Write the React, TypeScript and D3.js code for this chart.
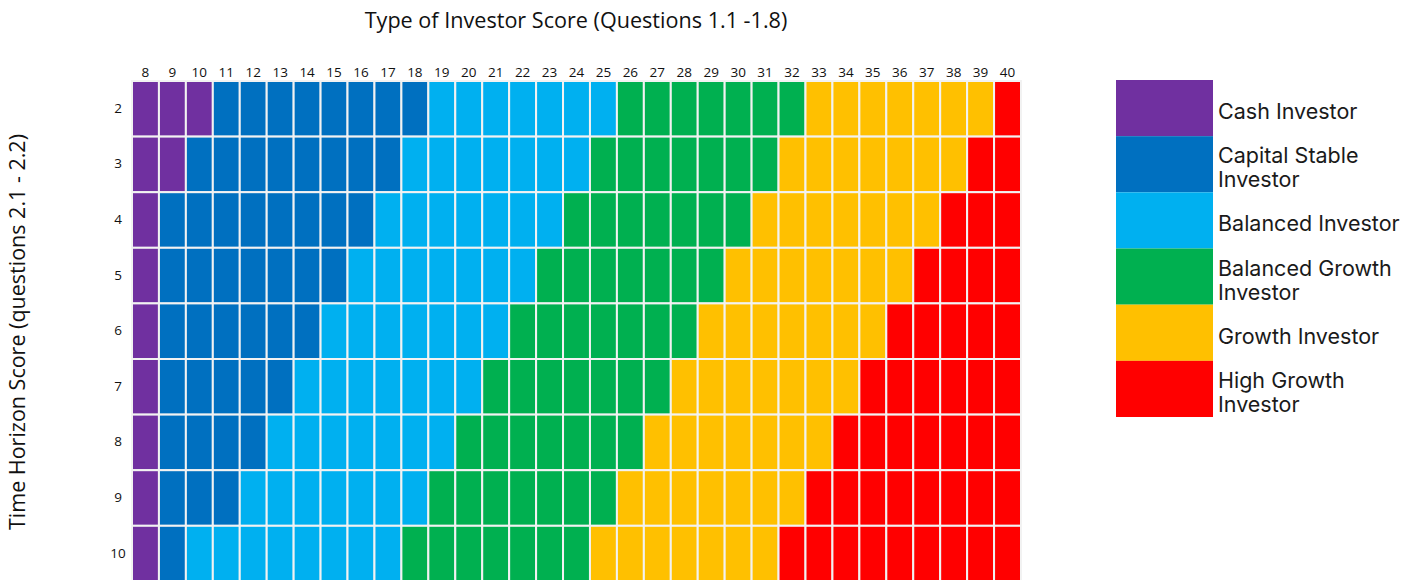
import React from "react";
import * as d3 from "d3";

const investorScores = d3.range(8, 41);
const timeScores = [2, 3, 4, 5, 6, 7, 8, 9, 10];

const categoryNames = [
  ["Cash Investor"],
  ["Capital Stable", "Investor"],
  ["Balanced Investor"],
  ["Balanced Growth", "Investor"],
  ["Growth Investor"],
  ["High Growth", "Investor"],
];
const categoryColors = ["#7030A0", "#0070C0", "#00B0F0", "#00B050", "#FFC000", "#FF0000"];

// first Type-of-Investor score at which each category starts, per time horizon row (2..10)
const capitalStableStart = [11, 10, 9, 9, 9, 9, 9, 9, 9];
const balancedStart = [19, 18, 17, 16, 15, 14, 13, 12, 10];
const balancedGrowthStart = [26, 25, 24, 23, 22, 21, 20, 19, 18];
const growthStart = [33, 32, 31, 30, 29, 28, 27, 26, 25];
const highGrowthStart = [40, 39, 38, 37, 36, 35, 34, 33, 32];

const W = 1417;
const H = 580;
const FONT = "'Open Sans', Lato, sans-serif";
const TICK_FONT = "'Open Sans', Lato, sans-serif";
const LEGEND_FONT = "Inter, 'Open Sans', sans-serif";

function categoryOf(rowIdx: number, score: number): number {
  const starts = [
    capitalStableStart[rowIdx],
    balancedStart[rowIdx],
    balancedGrowthStart[rowIdx],
    growthStart[rowIdx],
    highGrowthStart[rowIdx],
  ];
  let c = 0;
  starts.forEach((s, i) => {
    if (score >= s) c = i + 1;
  });
  return c;
}

export default function App() {
  const x = d3.scaleBand<number>().domain(investorScores).range([132, 1021]);
  const y = d3.scaleBand<number>().domain(timeScores).range([81, 81 + 9 * 55.6]);
  const legendY = d3.scaleBand<number>().domain(d3.range(6)).range([80, 417]);

  const cells: { t: number; s: number; c: number }[] = [];
  timeScores.forEach((t, ri) => {
    investorScores.forEach((s) => cells.push({ t, s, c: categoryOf(ri, s) }));
  });

  return (
    <svg
      width={W}
      height={H}
      style={{ position: "absolute", left: 0, top: 0, display: "block", background: "#fff" }}
    >
      <text x={576} y={28} textAnchor="middle" fontFamily={FONT} fontSize={21.6} fill="#111">
        Type of Investor Score (Questions 1.1 -1.8)
      </text>
      <text
        transform={`translate(25,${332}) rotate(-90)`}
        textAnchor="middle"
        fontFamily={FONT}
        fontSize={21.5}
        fill="#111"
      >
        Time Horizon Score (questions 2.1 - 2.2)
      </text>
      <g>
        {cells.map((d, i) => (
          <rect
            key={i}
            x={x(d.s)!}
            y={y(d.t)!}
            width={x.bandwidth()}
            height={y.bandwidth()}
            fill={categoryColors[d.c]}
            stroke="#F2F2F2"
            strokeWidth={2}
          />
        ))}
      </g>
      <g>
        {investorScores.map((s) => (
          <text
            key={s}
            x={x(s)! + x.bandwidth() / 2}
            y={77}
            textAnchor="middle"
            fontFamily={TICK_FONT}
            fontSize={13.5}
            fill="#111"
          >
            {s}
          </text>
        ))}
      </g>
      <g>
        {timeScores.map((t) => (
          <text
            key={t}
            x={118}
            y={y(t)! + y.bandwidth() / 2 + 4}
            textAnchor="middle"
            fontFamily={TICK_FONT}
            fontSize={13.5}
            fill="#111"
          >
            {t}
          </text>
        ))}
      </g>
      <g>
        {categoryNames.map((lines, i) => {
          const cy = legendY(i)! + legendY.bandwidth() / 2 + 4;
          return (
            <g key={i}>
              <rect
                x={1116}
                y={legendY(i)!}
                width={97}
                height={legendY.bandwidth()}
                fill={categoryColors[i]}
              />
              {lines.map((ln, j) => (
                <text
                  key={j}
                  x={1218}
                  y={cy + (j - (lines.length - 1) / 2) * 24 + 7}
                  fontFamily={LEGEND_FONT}
                  fontSize={21.5}
                  fill="#1a1a1a"
                >
                  {ln}
                </text>
              ))}
            </g>
          );
        })}
      </g>
    </svg>
  );
}
